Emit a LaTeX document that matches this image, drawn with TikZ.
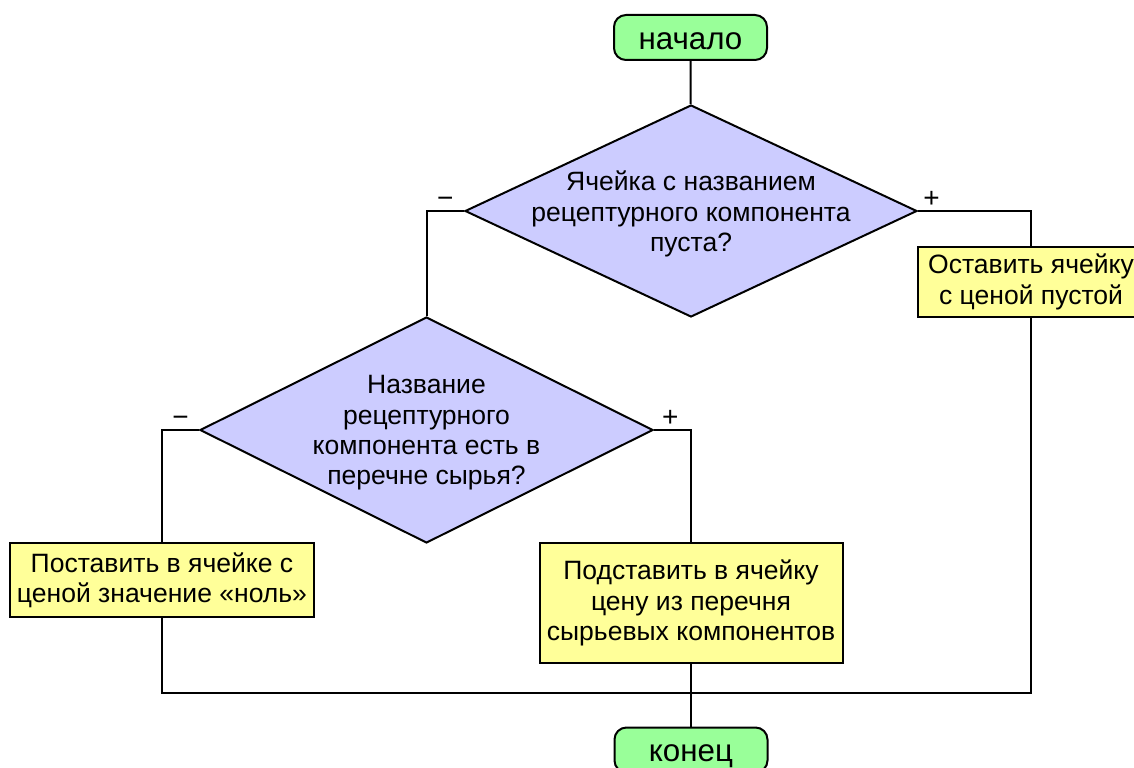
\documentclass[tikz,border=0pt]{standalone}
\usepackage{fontspec}
\setmainfont{Liberation Sans}
\usetikzlibrary{shapes.geometric,positioning,calc}

\definecolor{termgreen}{HTML}{99FF99}
\definecolor{askviolet}{HTML}{CCCCFF}
\definecolor{actyellow}{HTML}{FFFF99}

\begin{document}
\begin{tikzpicture}[
    x=0.75pt, y=-0.75pt,
    line width=1.5pt,
    font=\fontsize{19.9}{22.8}\selectfont,
    terminal/.style={draw, fill=termgreen, rectangle, rounded corners=9pt, minimum width=114.75pt, minimum height=33.75pt, text height=17.5pt, text depth=0pt, font=\fontsize{23.5}{26}\selectfont},
    decision/.style={draw, fill=askviolet, diamond, inner sep=0pt},
    askText/.style={align=center, inner sep=0pt},
    action/.style={draw, fill=actyellow, rectangle, align=center, inner sep=2pt},
    sign/.style={inner sep=2pt, above, font=\fontsize{21}{24}\selectfont}
]
\useasboundingbox (0,0) rectangle (1134,767);

% terminals
\node[terminal] (start) at (690.5,37.5) {начало};
\node[terminal] (stop) at (691,750) {конец};

% decisions
\node[decision, minimum width=339pt, minimum height=159pt] (emptyQ) at (691,211) {};
\node[askText] (emptyQtext) at ($(emptyQ)+(0,3)$) {Ячейка с названием\\рецептурного компонента\\пуста?};
\node[decision, minimum width=339.75pt, minimum height=169.5pt] (listQ) at (426.5,430) {};
\node[askText] (listQtext) at ($(listQ)+(0,3)$) {Название\\рецептурного\\компонента есть в\\перечне сырья?};

% actions
\node[action, minimum width=169.5pt, minimum height=52.5pt] (keep) at (1031,282) {Оставить ячейку\\с ценой пустой};
\node[action, minimum width=228pt, minimum height=55.5pt] (zero) at (162,580) {Поставить в ячейке с\\ценой значение «ноль»};
\node[action, minimum width=227.25pt, minimum height=90pt] (copy) at (691,603) {Подставить в ячейку\\цену из перечня\\сырьевых компонентов};

\coordinate (join) at (stop.north |- 0,693);

\draw (start) -- (emptyQ);
\draw (emptyQ.west) -| node[sign, pos=0.25]{−} (listQ.north);
\draw (emptyQ.east) -| node[sign, pos=0.06]{+} (keep.north);
\draw (listQ.west) -| node[sign, pos=0.25]{−} (zero.north);
\draw (listQ.east) -| node[sign, pos=0.22]{+} (copy.north);
\draw (zero.south) |- (join);
\draw (keep.south) |- (join);
\draw (copy.south) -- (join) -- (stop.north);

\end{tikzpicture}
\end{document}
